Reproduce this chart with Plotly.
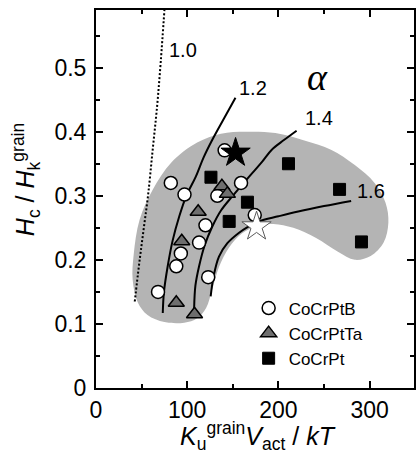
import plotly.graph_objects as go

# --- data ---
b_x = [68, 82, 97, 93, 88, 113, 120, 123, 133, 141, 159, 174]
b_y = [0.150, 0.320, 0.302, 0.210, 0.190, 0.227, 0.254, 0.173, 0.300, 0.371, 0.320, 0.270]
ta_x = [88, 94, 112, 108, 138, 144]
ta_y = [0.133, 0.229, 0.275, 0.115, 0.315, 0.303]
pt_x = [126, 146, 166, 211, 267, 291]
pt_y = [0.329, 0.260, 0.290, 0.350, 0.310, 0.228]
star_black = ([153], [0.367])
star_white = ([176], [0.252])

c10_x = [42.5, 47, 51.5, 57, 62, 67, 71, 75]
c10_y = [0.135, 0.19, 0.24, 0.30, 0.37, 0.44, 0.51, 0.59]
c12_x = [73.2, 74.5, 78.6, 84, 91.3, 99, 109.4, 118, 127.5, 140, 152.9]
c12_y = [0.117, 0.15, 0.19, 0.23, 0.268, 0.30, 0.33, 0.36, 0.3875, 0.42, 0.453]
c14_x = [107.6, 109, 113, 119, 127.5, 137, 149.3, 160, 171, 182, 192.7, 206, 219.9]
c14_y = [0.125, 0.16, 0.19, 0.222, 0.252, 0.277, 0.299, 0.317, 0.335, 0.353, 0.372, 0.387, 0.4016]
c16_x = [125.7, 129, 134.8, 144, 156.5, 167, 178.3, 200, 221.7, 250, 279.7]
c16_y = [0.143, 0.175, 0.205, 0.226, 0.242, 0.252, 0.260, 0.268, 0.2755, 0.284, 0.292]

region_x = [164.1, 196.7, 229.3, 257.6, 283.7, 305.4, 317.4, 320.5, 315.3, 301.1, 283.7, 265.2,
            241.3, 216.3, 194.6, 176.1, 159.8, 145.7, 134.8, 127.2, 120.7, 110.9, 96.7, 75,
            56.5, 45.7, 40.2, 41.3, 47.8, 62, 82.6, 110.9, 137, 164.1]
region_y = [0.400, 0.398, 0.386, 0.372, 0.348, 0.320, 0.289, 0.258, 0.227, 0.206, 0.200, 0.2125,
            0.234, 0.250, 0.256, 0.253, 0.241, 0.219, 0.189, 0.153, 0.125, 0.109, 0.102, 0.103,
            0.114, 0.134, 0.169, 0.208, 0.2625, 0.309, 0.352, 0.383, 0.397, 0.400]

curve_labels = ["1.0", "1.2", "1.4", "1.6"]
label_x = [95, 172, 245, 301]
label_y = [0.528, 0.468, 0.421, 0.307]

FONT = "Liberation Sans, Arial, sans-serif"

fig = go.Figure()

fig.add_trace(go.Scatter(x=region_x, y=region_y, mode="lines", fill="toself",
                         line=dict(shape="spline", smoothing=1.0, width=0, color="rgb(180,180,180)"),
                         fillcolor="rgb(180,180,180)", showlegend=False, hoverinfo="skip"))

fig.add_trace(go.Scatter(x=c10_x, y=c10_y, mode="lines", line=dict(color="black", width=2, dash="2px,2px", shape="spline"),
                         showlegend=False))
for cx, cy in [(c12_x, c12_y), (c14_x, c14_y), (c16_x, c16_y)]:
    fig.add_trace(go.Scatter(x=cx, y=cy, mode="lines", line=dict(color="black", width=2, shape="spline"),
                             showlegend=False))

fig.add_trace(go.Scatter(x=b_x, y=b_y, mode="markers", name="CoCrPtB",
                         marker=dict(symbol="circle", size=13, color="white", line=dict(color="black", width=1.5))))
fig.add_trace(go.Scatter(x=ta_x, y=ta_y, mode="markers", name="CoCrPtTa",
                         marker=dict(symbol="triangle-up", size=14, color="rgb(110,110,110)", line=dict(color="black", width=1.5))))
fig.add_trace(go.Scatter(x=pt_x, y=pt_y, mode="markers", name="CoCrPt",
                         marker=dict(symbol="square", size=12, color="black", line=dict(color="black", width=1))))
fig.add_trace(go.Scatter(x=star_black[0], y=star_black[1], mode="markers", showlegend=False,
                         marker=dict(symbol="star", size=22, color="black", line=dict(color="black", width=1))))
fig.add_trace(go.Scatter(x=star_white[0], y=star_white[1], mode="markers", showlegend=False,
                         marker=dict(symbol="star", size=22, color="white", line=dict(color="rgb(90,90,90)", width=1))))

annotations = []
for t, x, y in zip(curve_labels, label_x, label_y):
    annotations.append(dict(x=x, y=y, text=t, showarrow=False, font=dict(family=FONT, size=20, color="black")))
annotations.append(dict(x=243, y=0.486, text="<i>α</i>", showarrow=False,
                        font=dict(family="Liberation Serif, Times New Roman, serif", size=38, color="black")))
annotations.append(dict(xref="paper", yref="paper", x=0.51, y=-0.126, yanchor="middle",
                        text="<i>K</i><sub>u</sub><sup>grain</sup><i>V</i><sub>act</sub> / <i>kT</i>",
                        showarrow=False, font=dict(family=FONT, size=25, color="black")))
annotations.append(dict(xref="paper", yref="paper", x=-0.22, y=0.55, xanchor="center",
                        text="<i>H</i><sub>c</sub> / <i>H</i><sub>k</sub><sup>grain</sup>", textangle=-90,
                        showarrow=False, font=dict(family=FONT, size=25, color="black")))

axis_common = dict(showline=True, linecolor="black", linewidth=2, mirror="allticks", ticks="inside",
                   ticklen=7, tickwidth=1.5, tickcolor="black", showgrid=False, zeroline=False,
                   tickfont=dict(family=FONT, size=23, color="black"))

fig.update_layout(
    width=416, height=453,
    margin=dict(l=96, r=0, t=10, b=65),
    paper_bgcolor="white", plot_bgcolor="white",
    xaxis=dict(range=[0, 348.6], tickvals=[0, 100, 200, 300],
               minor=dict(tickvals=[50, 150, 250], ticks="inside", ticklen=4, tickcolor="black", tickwidth=1.5),
               ticklabelstandoff=0,
               **axis_common),
    yaxis=dict(range=[0, 0.59], tickvals=[0, 0.1, 0.2, 0.3, 0.4, 0.5], ticktext=["0", "0.1", "0.2", "0.3", "0.4", "0.5"],
               minor=dict(tickvals=[0.05, 0.15, 0.25, 0.35, 0.45, 0.55], ticks="inside", ticklen=4, tickcolor="black", tickwidth=1.5),
               ticklabelstandoff=3,
               **axis_common),
    legend=dict(x=0.48, y=0.258, xanchor="left", yanchor="top", bgcolor="rgba(0,0,0,0)",
                font=dict(family=FONT, size=17, color="black"), itemwidth=30, tracegroupgap=0),
    annotations=annotations,
    showlegend=True,
)

fig.write_html("out.html")
